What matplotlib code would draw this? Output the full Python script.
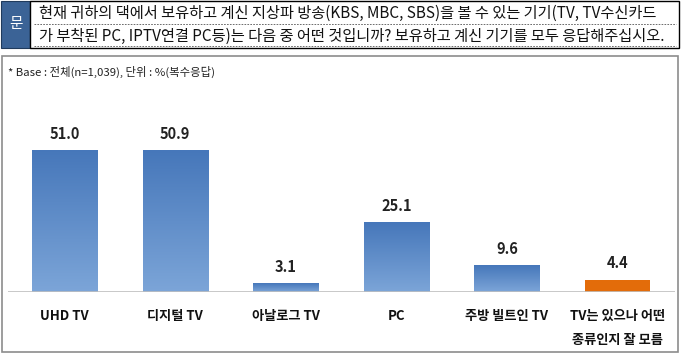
import numpy as np
import matplotlib
matplotlib.use("Agg")
import matplotlib.pyplot as plt
from matplotlib.patches import Rectangle

plt.rcParams['font.family'] = ['Noto Sans CJK KR', 'DejaVu Sans']

# data
categories = ['UHD TV', '디지털 TV', '아날로그 TV', 'PC', '주방 빌트인 TV', 'TV는 있으나 어떤\n종류인지 잘 모름']
values = [51.0, 50.9, 3.1, 25.1, 9.6, 4.4]
bar_colors = ['blue', 'blue', 'blue', 'blue', 'blue', 'orange']

question_1 = '현재 귀하의 댁에서 보유하고 계신 지상파 방송(KBS, MBC, SBS)을 볼 수 있는 기기(TV, TV수신카드'
question_2 = '가 부착된 PC, IPTV연결 PC등)는 다음 중 어떤 것입니까? 보유하고 계신 기기를 모두 응답해주십시오.'
base_note = '* Base : 전체(n=1,039), 단위 : %(복수응답)'

W, H = 681, 354
fig = plt.figure(figsize=(W / 100, H / 100), dpi=100)

def fx(px):
    return px / W

def fy(py):
    return 1 - py / H

# header: blue "문" box + question box
fig.add_artist(Rectangle((fx(1), fy(48)), fx(29), 47 / H, facecolor='#3b6396',
                         edgecolor='#1f3a5c', lw=0.8, transform=fig.transFigure))
fig.text(fx(15.5), fy(24), '문', color='white', fontsize=10.5, ha='center', va='center')
fig.add_artist(Rectangle((fx(30), fy(48)), fx(649), 47 / H, facecolor='white',
                         edgecolor='black', lw=1.0, transform=fig.transFigure))
# dashed underlines
for yy in (24, 46):
    fig.add_artist(plt.Line2D([fx(34), fx(676)], [fy(yy), fy(yy)], color='#555555',
                              lw=0.6, ls=(0, (2, 1.5)), transform=fig.transFigure))
fig.text(fx(39), fy(13), question_1, fontsize=11.0, ha='left', va='center', color='#111111')
fig.text(fx(39), fy(36), question_2, fontsize=11.0, ha='left', va='center', color='#111111')

# chart frame
fig.add_artist(Rectangle((fx(2), fy(352)), fx(676), 296 / H, facecolor='none',
                         edgecolor='#8c8c8c', lw=1.2, transform=fig.transFigure, zorder=-1))
fig.text(fx(8), fy(72), base_note, fontsize=8.2, ha='left', va='center', color='#222222')

# bar axes
base_py, top_py = 292, 100
left_px, right_px = 8, 675
spacing = 110.6
ax = fig.add_axes([fx(left_px), fy(base_py), (right_px - left_px) / W, (base_py - top_py) / H])
x0 = (64.5 - left_px) / spacing
ax.axis('off')
ax.patch.set_alpha(0)

x = np.arange(len(categories))
width = 0.588
bars = ax.bar(x, values, width=width, color='none', edgecolor='none')

blue_grad = matplotlib.colors.LinearSegmentedColormap.from_list('bg', ['#7ca5d8', '#4677ba'])
grad = np.linspace(0, 1, 256).reshape(-1, 1)
for b, c in zip(bars, bar_colors):
    bx, by, bw, bh = b.get_x(), b.get_y(), b.get_width(), b.get_height()
    if c == 'orange':
        ax.add_patch(Rectangle((bx, by), bw, bh, facecolor='#e36c0a', edgecolor='none'))
    else:
        im = ax.imshow(grad, cmap=blue_grad, extent=(bx, bx + bw, by, by + bh),
                       origin='lower', aspect='auto', zorder=2)
        im.set_clip_path(b)
ax.set_xlim(-x0, (right_px - left_px) / spacing - x0)
ax.set_ylim(0, (base_py - top_py) / 2.785)
ax.axhline(0, color='#bfbfbf', lw=1.2, zorder=3)

for xi, v in zip(x, values):
    ax.text(xi, v + 3.0, f'{v:.1f}', ha='center', va='bottom', fontsize=10.5,
            fontweight='bold', color='#222222')

for xi, lab in zip(x, categories):
    ax.text(xi, -6.0, lab, ha='center', va='top', fontsize=9.5, color='#111111',
            linespacing=1.95, fontweight='bold')

fig.savefig('out.png', dpi=100)
